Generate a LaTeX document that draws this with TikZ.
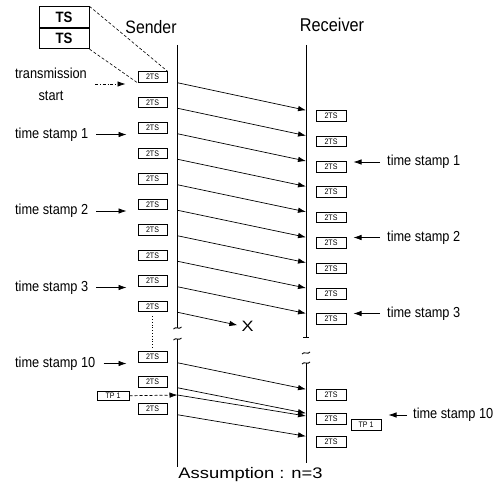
\documentclass[tikz,border=0pt]{standalone}
\usepackage{fontspec}
\setmainfont[FakeStretch=0.88]{Liberation Sans}
\newfontfamily\widefont[FakeStretch=1.2]{Liberation Sans}
\usetikzlibrary{positioning, arrows.meta}

\tikzset{
  pkt/.style={draw, line width=1pt, minimum width=29pt, minimum height=10.5pt,
    inner sep=0pt, font=\fontsize{8}{8}\selectfont},
  lbl/.style={inner sep=0pt, font=\fontsize{14.5}{22}\selectfont},
  msg/.style={-{Latex[length=8pt,width=5.5pt]}, line width=0.7pt},
  life/.style={line width=0.9pt}
}
\newcommand{\lifebreak}[1]{\draw[life] (#1) ++(-4,1) .. controls +(2,-3) and +(-2,3) .. ++(8,-2);}

\begin{document}
\begin{tikzpicture}[x=1pt, y=-1pt]
    \useasboundingbox (0,0) rectangle (502,495);

    \node(sender)[anchor=base, font=\fontsize{18}{18}\selectfont] at (151,33.5){Sender};
    \node(receiver)[anchor=base, font=\fontsize{18.5}{18}\selectfont] at (332,32){Receiver};

    % lifelines
    \coordinate(s_top) at (177.5,45);
    \coordinate(s_cut1) at (177.5,328);
    \coordinate(s_cut2) at (177.5,339);
    \coordinate(s_bot) at (177.5,467);
    \coordinate(r_top) at (306,45);
    \coordinate(r_cut1) at (306,337);
    \coordinate(r_cut2) at (306,353);
    \coordinate(r_cut3) at (306,363);
    \coordinate(r_bot) at (306,463);

    \draw[life] (s_top) -- (s_cut1);
    \draw[life] (s_cut2) -- (s_bot);
    \lifebreak{s_cut1} \lifebreak{s_cut2}
    \draw[life] (r_top) -- (r_cut1);
    \draw[life] (r_cut3) -- (r_bot);
    \draw[life] (303,337) -- (309,337);
    \lifebreak{r_cut2} \lifebreak{r_cut3}

    % packets
    \foreach \k in {0,...,9}
      \node(sp\k)[pkt] at (152.5,{77+25.5*\k}){2TS};
    \node(sp10)[pkt] at (152.5,357){2TS};
    \node(sp11)[pkt] at (152.5,382){2TS};
    \node(sp12)[pkt] at (152.5,409){2TS};
    \foreach \k in {0,...,8}
      \node(rp\k)[pkt, minimum width=30pt] at (331,{116+25.4*\k}){2TS};
    \node(rp9)[pkt, minimum width=30pt] at (331,395){2TS};
    \node(rp10)[pkt, minimum width=30pt] at (331,419){2TS};
    \node(rp11)[pkt, minimum width=30pt] at (331,442){2TS};
    \node(tp_s)[pkt, minimum width=32pt, minimum height=9pt] at (113,396){TP 1};
    \node(tp_r)[pkt, minimum width=30pt] at (366,425){TP 1};

    \node(ts_a)[draw, line width=0.9pt, minimum width=50pt, minimum height=20.5pt,
      font=\fontsize{15}{15}\bfseries] at (64,17){TS};
    \node(ts_b)[draw, line width=0.9pt, minimum width=50pt, minimum height=20.5pt,
      font=\fontsize{15}{15}\bfseries, below=0pt of ts_a]{TS};
    \draw[densely dashed, line width=0.6pt] (ts_a.north east) -- (sp0.north east);
    \draw[densely dashed, line width=0.6pt] (ts_b.south east) -- (sp0.south west);

    % messages
    \foreach \k in {0,...,8}
      \draw[msg] (sp\k.south -| s_top) -- (rp\k.north -| r_top);
    \node(lost)[inner sep=0pt, font=\widefont\fontsize{15}{15}\selectfont] at (247.5,326){X};
    \draw[msg, shorten >=4pt] (sp9.south -| s_top) -- (lost.west);
    \draw[dotted, line width=0.8pt, shorten <=4pt, shorten >=4pt] (sp9) -- (sp10);

    \coordinate(tp_in) at (177.5,395);
    \coordinate(tp_out) at (306,416);
    \draw[msg] (sp10.south -| s_top) -- (rp9.north -| r_top);
    \draw[msg] (sp11.south -| s_top) -- (rp10.north -| r_top);
    \draw[msg, densely dashed] (tp_s) -- (tp_in);
    \draw[msg] (tp_in) -- (tp_out);
    \draw[msg] (sp12.south -| s_top) -- (rp11.north -| r_top);

    % labels
    \node(l_start)[lbl, align=center] at (51,84){transmission\\start};
    \draw[msg, dash dot, shorten <=8pt, shorten >=12pt] (l_start.east) -- (l_start.east -| sp0.west);
    \node(l_ts1)[lbl, anchor=west] at (15,134.5){time stamp 1};
    \node(l_ts2)[lbl, anchor=west] at (15,211){time stamp 2};
    \node(l_ts3)[lbl, anchor=west] at (15,287.5){time stamp 3};
    \node(l_ts10)[lbl, anchor=west] at (15,363.5){time stamp 10};
    \draw[msg, shorten <=8pt, shorten >=11pt] (l_ts1) -- (l_ts1 -| sp2.west);
    \draw[msg, shorten <=8pt, shorten >=11pt] (l_ts2) -- (l_ts2 -| sp5.west);
    \draw[msg, shorten <=8pt, shorten >=11pt] (l_ts3) -- (l_ts3 -| sp8.west);
    \draw[msg, shorten <=8pt, shorten >=11pt] (l_ts10) -- (l_ts10 -| sp10.west);

    \node(r_ts1)[lbl, anchor=west] at (387,162){time stamp 1};
    \node(r_ts2)[lbl, anchor=west] at (387,237.5){time stamp 2};
    \node(r_ts3)[lbl, anchor=west] at (387,313.5){time stamp 3};
    \node(r_ts10)[lbl, anchor=west] at (413,415){time stamp 10};
    \draw[msg, shorten <=7pt, shorten >=7pt] (r_ts1) -- (r_ts1 -| rp2.east);
    \draw[msg, shorten <=7pt, shorten >=7pt] (r_ts2) -- (r_ts2 -| rp5.east);
    \draw[msg, shorten <=7pt, shorten >=7pt] (r_ts3) -- (r_ts3 -| rp8.east);
    \draw[msg, shorten <=6pt, shorten >=7pt] (r_ts10) -- (r_ts10 -| tp_r.east);

    \node(assume)[anchor=base, font=\widefont\fontsize{15.3}{16}\selectfont] at (250.5,478){Assumption : n=3};
\end{tikzpicture}
\end{document}
